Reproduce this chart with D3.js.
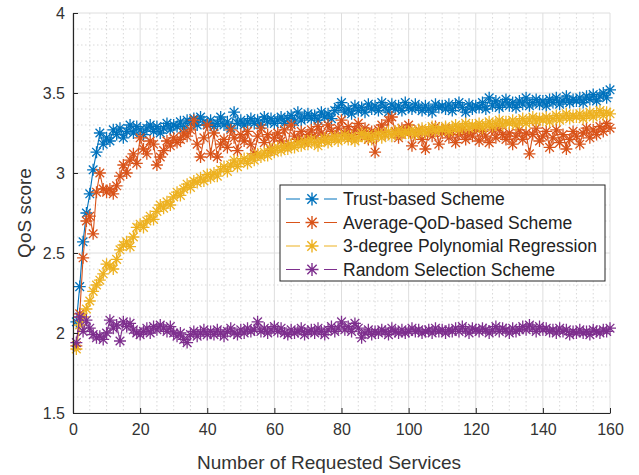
<!DOCTYPE html>
<html>
<head>
<meta charset="utf-8">
<script src="https://cdn.jsdelivr.net/npm/d3@7"></script>
<style>
  html, body { margin: 0; padding: 0; background: #fff; }
  svg { display: block; font-family: "Liberation Sans", Arial, sans-serif; }
</style>
</head>
<body>
<svg id="chart" width="639" height="475"></svg>
<script>
// Requested services index 1..160
const services = d3.range(1, 161);

const trustBased = [
  2.07, 2.29, 2.57, 2.75, 2.87, 3.02, 3.13, 3.25, 3.18, 3.22,
  3.20, 3.27, 3.24, 3.28, 3.22, 3.26, 3.30, 3.25, 3.29, 3.27,
  3.24, 3.28, 3.30, 3.26, 3.29, 3.25, 3.28, 3.31, 3.27, 3.30,
  3.29, 3.32, 3.28, 3.33, 3.31, 3.34, 3.30, 3.35, 3.32, 3.30,
  3.33, 3.29, 3.31, 3.35, 3.30, 3.32, 3.28, 3.38, 3.31, 3.33,
  3.30, 3.32, 3.34, 3.31, 3.33, 3.30, 3.35, 3.32, 3.34, 3.31,
  3.33, 3.35, 3.31, 3.34, 3.36, 3.32, 3.38, 3.33, 3.35, 3.37,
  3.34, 3.36, 3.33, 3.38, 3.35, 3.37, 3.34, 3.39, 3.41, 3.44,
  3.38, 3.40, 3.37, 3.42, 3.39, 3.41, 3.38, 3.43, 3.40, 3.42,
  3.39, 3.44, 3.41, 3.38, 3.43, 3.40, 3.42, 3.39, 3.44, 3.41,
  3.40, 3.43, 3.41, 3.39, 3.42, 3.40, 3.38, 3.43, 3.41, 3.42,
  3.40, 3.43, 3.39, 3.42, 3.44, 3.41, 3.38, 3.43, 3.40, 3.42,
  3.41, 3.44, 3.40, 3.47, 3.42, 3.45, 3.41, 3.43, 3.46, 3.42,
  3.44, 3.41, 3.45, 3.43, 3.47, 3.42, 3.44, 3.46, 3.43, 3.45,
  3.42, 3.46, 3.44, 3.47, 3.43, 3.45, 3.48, 3.44, 3.46, 3.45,
  3.47, 3.44, 3.48, 3.46, 3.49, 3.45, 3.48, 3.50, 3.47, 3.52
];

const averageQoD = [
  1.92, 2.12, 2.47, 2.70, 2.73, 2.62, 2.88, 3.00, 2.90, 2.88,
  2.90, 2.87, 2.92, 2.98, 3.05, 3.00, 3.08, 3.12, 3.06, 3.22,
  3.15, 3.12, 3.20, 3.18, 3.05, 3.10, 3.14, 3.20, 3.17, 3.22,
  3.19, 3.21, 3.25, 3.23, 3.27, 3.33, 3.18, 3.10, 3.22, 3.30,
  3.12, 3.25, 3.10, 3.18, 3.21, 3.16, 3.27, 3.22, 3.14, 3.24,
  3.20, 3.26, 3.18, 3.12, 3.23, 3.28, 3.19, 3.24, 3.14, 3.22,
  3.25, 3.20, 3.27, 3.17, 3.30, 3.23, 3.21, 3.26, 3.19, 3.24,
  3.27, 3.22, 3.29, 3.25, 3.21, 3.30, 3.26, 3.23, 3.28, 3.33,
  3.25, 3.29, 3.22, 3.27, 3.31, 3.24, 3.28, 3.21, 3.26, 3.13,
  3.27, 3.30, 3.24, 3.33, 3.35, 3.26, 3.22, 3.28, 3.25, 3.30,
  3.17, 3.24, 3.27, 3.21, 3.15, 3.26, 3.23, 3.29, 3.18, 3.25,
  3.28, 3.22, 3.26, 3.19, 3.24, 3.27, 3.21, 3.25, 3.23, 3.28,
  3.20, 3.26, 3.23, 3.19, 3.27, 3.22, 3.28, 3.24, 3.21, 3.25,
  3.18, 3.23, 3.27, 3.21, 3.25, 3.12, 3.24, 3.28, 3.20, 3.23,
  3.26, 3.16, 3.22, 3.27, 3.19, 3.24, 3.15, 3.21, 3.26, 3.23,
  3.18, 3.25, 3.28, 3.22, 3.27, 3.24, 3.29, 3.26, 3.31, 3.28
];

const polyRegression = [
  1.90, 2.05, 2.10, 2.15, 2.20, 2.26, 2.30, 2.33, 2.37, 2.43,
  2.42, 2.40, 2.46, 2.52, 2.55, 2.57, 2.54, 2.60, 2.66, 2.68,
  2.66, 2.70, 2.73, 2.71, 2.76, 2.80, 2.78, 2.82, 2.80, 2.85,
  2.88, 2.86, 2.90, 2.93, 2.91, 2.95, 2.94, 2.97, 2.95, 2.99,
  2.97, 3.00, 2.98, 3.02, 3.04, 3.01, 3.05, 3.08, 3.04, 3.07,
  3.09, 3.06, 3.10, 3.08, 3.12, 3.10, 3.13, 3.11, 3.15, 3.13,
  3.16, 3.14, 3.17, 3.15, 3.18, 3.16, 3.19, 3.17, 3.20, 3.18,
  3.21, 3.19, 3.17, 3.20, 3.22, 3.19, 3.21, 3.23, 3.20, 3.22,
  3.24, 3.21, 3.23, 3.20, 3.22, 3.25, 3.22, 3.24, 3.21, 3.23,
  3.25, 3.22, 3.24, 3.26, 3.23, 3.25, 3.27, 3.24, 3.26, 3.25,
  3.27, 3.24, 3.26, 3.28, 3.25, 3.27, 3.29, 3.26, 3.28, 3.27,
  3.29, 3.26, 3.28, 3.30, 3.27, 3.29, 3.31, 3.28, 3.30, 3.29,
  3.31, 3.28, 3.30, 3.32, 3.29, 3.31, 3.33, 3.30, 3.32, 3.31,
  3.33, 3.30, 3.32, 3.34, 3.31, 3.33, 3.35, 3.32, 3.34, 3.33,
  3.35, 3.32, 3.34, 3.36, 3.33, 3.35, 3.37, 3.34, 3.36, 3.35,
  3.37, 3.34, 3.36, 3.38, 3.35, 3.37, 3.39, 3.36, 3.38, 3.37
];

const randomSelection = [
  1.94, 2.10, 2.01, 2.08, 2.03, 1.99, 1.97, 1.98, 1.96, 2.00,
  2.08, 2.03, 2.05, 1.95, 2.07, 2.04, 2.06, 2.02, 2.00, 1.99,
  2.01, 2.03, 2.00, 2.04, 2.02, 2.05, 2.03, 2.01, 2.04, 2.00,
  1.98, 2.00, 1.96, 1.94, 1.99, 2.01, 1.98, 2.00, 2.02, 1.99,
  2.01, 1.99, 2.02, 2.00, 1.98, 2.01, 2.03, 2.00, 1.99, 2.02,
  2.00, 2.03, 2.01, 2.02, 2.07, 2.01, 2.03, 2.00, 2.02, 2.04,
  2.01, 2.03, 2.00, 1.99, 2.02, 2.00, 2.01, 2.03, 1.99, 2.01,
  2.02, 2.00, 2.03, 2.01, 1.99, 2.02, 2.04, 2.01, 2.03, 2.07,
  2.02, 2.04, 2.01, 2.06, 2.03, 1.97, 2.00, 2.02, 1.99, 2.01,
  2.00, 2.02, 2.01, 1.99, 2.03, 2.01, 2.00, 2.02, 2.00, 2.01,
  2.03, 2.01, 2.02, 2.00, 2.01, 2.02, 2.00, 2.03, 2.01, 2.02,
  2.00, 2.02, 2.01, 2.03, 2.01, 2.04, 2.02, 2.00, 2.03, 2.02,
  2.01, 2.03, 2.02, 2.00, 2.02, 2.04, 2.01, 2.03, 2.02, 2.00,
  2.03, 2.01, 2.02, 2.04, 2.02, 2.05, 2.03, 2.01, 2.04, 2.02,
  2.03, 2.01, 2.02, 2.00, 2.03, 2.01, 2.02, 1.99, 2.01, 2.00,
  2.02, 2.00, 2.01, 1.99, 2.02, 2.01, 2.00, 2.02, 2.01, 2.03
];

const seriesNames = [
  "Trust-based Scheme",
  "Average-QoD-based Scheme",
  "3-degree Polynomial Regression",
  "Random Selection Scheme"
];
const seriesValues = [trustBased, averageQoD, polyRegression, randomSelection];
const seriesColors = ["#0072BD", "#D95319", "#EDB120", "#7E2F8E"];

const xTicks = [0, 20, 40, 60, 80, 100, 120, 140, 160];
const yTicks = [1.5, 2, 2.5, 3, 3.5, 4];

const svg = d3.select("#chart");
const plot = { left: 73, right: 610, top: 13, bottom: 413 };

const x = d3.scaleLinear().domain([0, 160]).range([plot.left, plot.right]);
const y = d3.scaleLinear().domain([1.5, 4]).range([plot.bottom, plot.top]);

// Minor grid (dotted)
const gMinor = svg.append("g");
gMinor.selectAll("line.mx")
  .data(d3.range(0, 161, 5).filter(v => v % 20 !== 0))
  .join("line")
  .attr("x1", d => x(d)).attr("x2", d => x(d))
  .attr("y1", plot.top).attr("y2", plot.bottom)
  .attr("stroke", "#cfcfcf").attr("stroke-width", 0.8)
  .attr("stroke-dasharray", "1.5,2.5");
gMinor.selectAll("line.my")
  .data(d3.range(15, 41, 1).map(v => v / 10).filter(v => Math.abs(v * 2 - Math.round(v * 2)) > 1e-6))
  .join("line")
  .attr("x1", plot.left).attr("x2", plot.right)
  .attr("y1", d => y(d)).attr("y2", d => y(d))
  .attr("stroke", "#cfcfcf").attr("stroke-width", 0.8)
  .attr("stroke-dasharray", "1.5,2.5");

// Major grid
const gMajor = svg.append("g");
gMajor.selectAll("line.gx")
  .data(xTicks)
  .join("line")
  .attr("x1", d => x(d)).attr("x2", d => x(d))
  .attr("y1", plot.top).attr("y2", plot.bottom)
  .attr("stroke", "#dedede").attr("stroke-width", 1);
gMajor.selectAll("line.gy")
  .data(yTicks)
  .join("line")
  .attr("x1", plot.left).attr("x2", plot.right)
  .attr("y1", d => y(d)).attr("y2", d => y(d))
  .attr("stroke", "#dedede").attr("stroke-width", 1);

// Asterisk marker path (MATLAB style "*")
function asterisk(r) {
  const d = r * 0.72;
  return `M${-r},0L${r},0M0,${-r}L0,${r}M${-d},${-d}L${d},${d}M${-d},${d}L${d},${-d}`;
}
const markerPath = asterisk(6);

const line = d3.line().x((d, i) => x(services[i])).y(d => y(d));

seriesValues.forEach((vals, k) => {
  const g = svg.append("g");
  g.append("path")
    .datum(vals)
    .attr("d", line)
    .attr("fill", "none")
    .attr("stroke", seriesColors[k])
    .attr("stroke-width", 1.1);
  g.selectAll("path.m")
    .data(vals)
    .join("path")
    .attr("class", "m")
    .attr("transform", (d, i) => `translate(${x(services[i])},${y(d)})`)
    .attr("d", markerPath)
    .attr("fill", "none")
    .attr("stroke", seriesColors[k])
    .attr("stroke-width", 1.3);
});

// Axes
const axisColor = "#262626";
const xAxis = svg.append("g")
  .attr("transform", `translate(0,${plot.bottom})`)
  .call(d3.axisBottom(x).tickValues(xTicks).tickSizeInner(-5).tickSizeOuter(0).tickPadding(11));
const yAxis = svg.append("g")
  .attr("transform", `translate(${plot.left},0)`)
  .call(d3.axisLeft(y).tickValues(yTicks).tickFormat(d3.format("")).tickSizeInner(-5).tickSizeOuter(0).tickPadding(8));
[xAxis, yAxis].forEach(a => {
  a.select(".domain").attr("stroke", axisColor).attr("stroke-width", 1.2);
  a.selectAll(".tick line").attr("stroke", axisColor);
  a.selectAll(".tick text")
    .attr("fill", "#333")
    .style("font-size", "16px")
    .style("font-family", "\"Liberation Sans\", Arial, sans-serif");
});

// Axis titles
svg.append("text")
  .attr("x", 329)
  .attr("y", 469)
  .attr("text-anchor", "middle")
  .attr("fill", "#333")
  .style("font-size", "19px")
  .text("Number of Requested Services");
svg.append("text")
  .attr("transform", `translate(31,${(plot.top + plot.bottom) / 2}) rotate(-90)`)
  .attr("text-anchor", "middle")
  .attr("fill", "#333")
  .style("font-size", "19px")
  .text("QoS score");

// Legend
const legend = svg.append("g").attr("transform", "translate(280,185)");
legend.append("rect")
  .attr("width", 325).attr("height", 96)
  .attr("fill", "#fff")
  .attr("stroke", "#262626").attr("stroke-width", 1);
seriesNames.forEach((name, k) => {
  const yy = 14 + k * 23.5;
  const row = legend.append("g").attr("transform", `translate(0,${yy})`);
  row.append("line")
    .attr("x1", 6).attr("x2", 57)
    .attr("stroke", seriesColors[k]).attr("stroke-width", 1);
  row.append("rect")
    .attr("x", 20).attr("y", -7).attr("width", 24).attr("height", 14)
    .attr("fill", "#fff");
  row.append("path")
    .attr("transform", "translate(32,0)")
    .attr("d", asterisk(6.5))
    .attr("fill", "none")
    .attr("stroke", seriesColors[k])
    .attr("stroke-width", 1.4);
  row.append("text")
    .attr("x", 63).attr("y", 6)
    .attr("fill", "#222")
    .style("font-size", "17.5px")
    .text(name);
});
</script>
</body>
</html>
